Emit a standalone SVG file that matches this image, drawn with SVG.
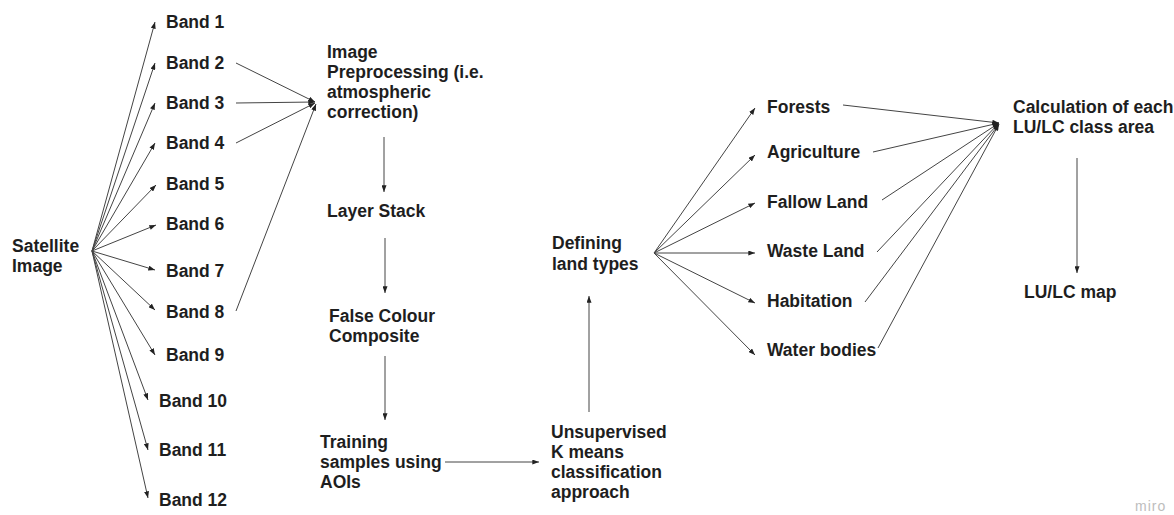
<svg xmlns="http://www.w3.org/2000/svg" width="1174" height="515" viewBox="0 0 1174 515">
<style>
.t{font-family:"Liberation Sans",Arial,sans-serif;font-weight:bold;font-size:17.5px;fill:#1e1e1e}
.c line{stroke:#444;stroke-width:1;fill:none;marker-end:url(#ah)}
.wm{font-family:"Liberation Sans",Arial,sans-serif;font-size:14px;fill:#bdbdbd;letter-spacing:1px}
</style>
<defs>
<marker id="ah" viewBox="0 0 8 6" refX="8" refY="3" markerWidth="7" markerHeight="5" markerUnits="userSpaceOnUse" orient="auto">
<path d="M0,0 L8,3 L0,6 Z" fill="#222"/>
</marker>
</defs>
<rect width="1174" height="515" fill="#fff"/>
<g class="c" id="connectors">
<line x1="92" y1="251" x2="155" y2="22"/>
<line x1="92" y1="251" x2="155" y2="63"/>
<line x1="92" y1="251" x2="155" y2="103"/>
<line x1="92" y1="251" x2="155" y2="143"/>
<line x1="92" y1="251" x2="156" y2="185"/>
<line x1="92" y1="251" x2="156" y2="225"/>
<line x1="92" y1="251" x2="155" y2="270"/>
<line x1="92" y1="251" x2="155" y2="310"/>
<line x1="92" y1="251" x2="155" y2="355"/>
<line x1="92" y1="251" x2="148" y2="400"/>
<line x1="92" y1="251" x2="148" y2="450"/>
<line x1="92" y1="251" x2="148" y2="498"/>
<line x1="236" y1="63" x2="315" y2="102"/>
<line x1="236" y1="103" x2="315" y2="102"/>
<line x1="236" y1="143" x2="315" y2="103"/>
<line x1="236" y1="311" x2="316" y2="104"/>
<line x1="384" y1="137" x2="384" y2="192"/>
<line x1="385" y1="238" x2="385" y2="293"/>
<line x1="385" y1="356" x2="385" y2="420"/>
<line x1="445" y1="462" x2="539" y2="462"/>
<line x1="589" y1="412" x2="589" y2="296"/>
<line x1="654" y1="253" x2="755" y2="108"/>
<line x1="654" y1="253" x2="755" y2="155"/>
<line x1="654" y1="253" x2="755" y2="203"/>
<line x1="654" y1="253" x2="755" y2="253"/>
<line x1="654" y1="253" x2="755" y2="303"/>
<line x1="654" y1="253" x2="755" y2="355"/>
<line x1="843" y1="105" x2="999" y2="123"/>
<line x1="873" y1="152" x2="999" y2="123"/>
<line x1="882" y1="200" x2="999" y2="123"/>
<line x1="877" y1="252" x2="999" y2="123"/>
<line x1="865" y1="302" x2="999" y2="124"/>
<line x1="878" y1="348" x2="999" y2="124"/>
<line x1="1077" y1="158" x2="1077" y2="273"/>
</g>
<g id="satellite"><text class="t" x="12" y="252">Satellite</text><text class="t" x="12" y="272">Image</text></g>
<g id="band1"><text class="t" x="166" y="28">Band 1</text></g>
<g id="band2"><text class="t" x="166" y="69">Band 2</text></g>
<g id="band3"><text class="t" x="166" y="109">Band 3</text></g>
<g id="band4"><text class="t" x="166" y="149">Band 4</text></g>
<g id="band5"><text class="t" x="166" y="190">Band 5</text></g>
<g id="band6"><text class="t" x="166" y="230">Band 6</text></g>
<g id="band7"><text class="t" x="166" y="277">Band 7</text></g>
<g id="band8"><text class="t" x="166" y="318">Band 8</text></g>
<g id="band9"><text class="t" x="166" y="361">Band 9</text></g>
<g id="band10"><text class="t" x="159" y="407">Band 10</text></g>
<g id="band11"><text class="t" x="159" y="456">Band 11</text></g>
<g id="band12"><text class="t" x="159" y="506">Band 12</text></g>
<g id="preprocessing"><text class="t" x="327" y="58">Image</text><text class="t" x="327" y="78">Preprocessing (i.e.</text><text class="t" x="327" y="98">atmospheric</text><text class="t" x="327" y="118">correction)</text></g>
<g id="layerstack"><text class="t" x="327" y="217">Layer Stack</text></g>
<g id="fcc"><text class="t" x="329" y="322">False Colour</text><text class="t" x="329" y="342">Composite</text></g>
<g id="training"><text class="t" x="320" y="448">Training</text><text class="t" x="320" y="468">samples using</text><text class="t" x="320" y="488">AOIs</text></g>
<g id="unsupervised"><text class="t" x="551" y="438">Unsupervised</text><text class="t" x="551" y="458">K means</text><text class="t" x="551" y="478">classification</text><text class="t" x="551" y="498">approach</text></g>
<g id="defining"><text class="t" x="552" y="249">Defining</text><text class="t" x="552" y="270">land types</text></g>
<g id="forests"><text class="t" x="767" y="113">Forests</text></g>
<g id="agriculture"><text class="t" x="767" y="158">Agriculture</text></g>
<g id="fallow"><text class="t" x="767" y="208">Fallow Land</text></g>
<g id="waste"><text class="t" x="767" y="257">Waste Land</text></g>
<g id="habitation"><text class="t" x="767" y="307">Habitation</text></g>
<g id="water"><text class="t" x="767" y="356">Water bodies</text></g>
<g id="calculation"><text class="t" x="1013" y="113">Calculation of each</text><text class="t" x="1013" y="133">LU/LC class area</text></g>
<g id="map"><text class="t" x="1024" y="298">LU/LC map</text></g>
<text class="wm" x="1135" y="511">miro</text>
</svg>
